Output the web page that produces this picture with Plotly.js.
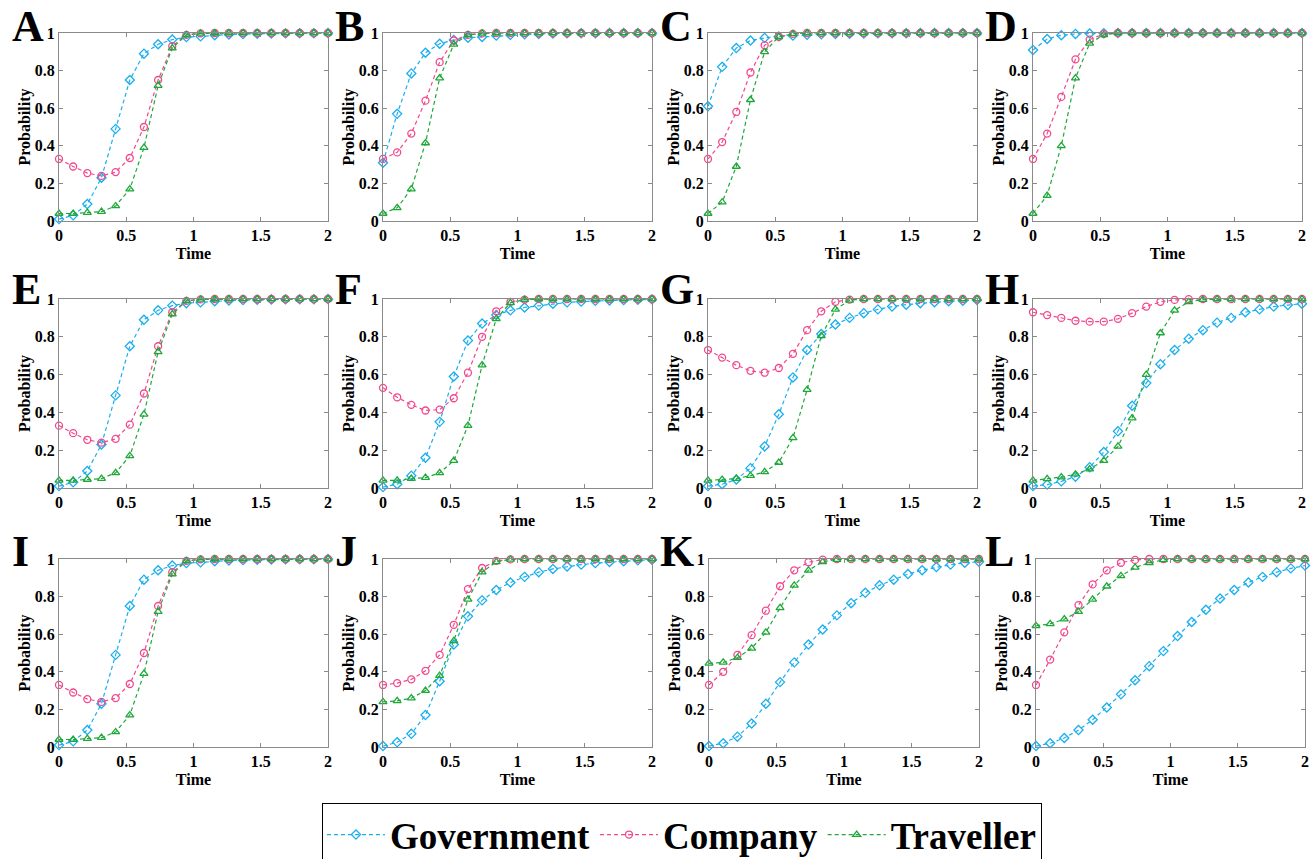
<!DOCTYPE html>
<html>
<head>
<meta charset="utf-8">
<script src="https://cdn.plot.ly/plotly-3.0.1.min.js"></script>
<style>html,body{margin:0;padding:0;background:#fff;}#chart{width:1314px;height:859px;}</style>
</head>
<body>
<div id="chart"></div>
<script>
// Time points (20 samples between 0 and 2)
const time = [0, 0.1053, 0.2105, 0.3158, 0.4211, 0.5263, 0.6316, 0.7368, 0.8421, 0.9474,
              1.0526, 1.1579, 1.2632, 1.3684, 1.4737, 1.5789, 1.6842, 1.7895, 1.8947, 2];

const seriesNames = ["Government", "Company", "Traveller"];
const panelLabels = ["A","B","C","D","E","F","G","H","I","J","K","L"];
const xTickVals = [0, 0.5, 1, 1.5, 2];
const xTickText = ["0", "0.5", "1", "1.5", "2"];
const yTickVals = [0, 0.2, 0.4, 0.6, 0.8, 1];
const yTickText = ["0", "0.2", "0.4", "0.6", "0.8", "1"];

// Panel A
const govA = [0.01,0.03,0.09,0.23,0.49,0.75,0.89,0.94,0.965,0.978,0.982,0.988,0.992,0.994,0.996,0.997,0.998,0.999,0.999,1];
const comA = [0.33,0.29,0.255,0.24,0.26,0.335,0.50,0.75,0.93,0.99,0.998,1,1,1,1,1,1,1,1,1];
const traA = [0.04,0.04,0.045,0.05,0.08,0.17,0.39,0.72,0.92,0.99,0.998,1,1,1,1,1,1,1,1,1];
// Panel B
const govB = [0.31,0.57,0.785,0.895,0.943,0.963,0.975,0.979,0.986,0.99,0.993,0.995,0.997,0.998,0.999,0.999,1,1,1,1];
const comB = [0.33,0.365,0.465,0.64,0.845,0.96,0.99,0.998,1,1,1,1,1,1,1,1,1,1,1,1];
const traB = [0.04,0.07,0.17,0.415,0.76,0.94,0.99,0.998,1,1,1,1,1,1,1,1,1,1,1,1];
// Panel C
const govC = [0.61,0.82,0.92,0.96,0.974,0.982,0.986,0.99,0.993,0.995,0.996,0.997,0.998,0.999,0.999,1,1,1,1,1];
const comC = [0.33,0.42,0.58,0.79,0.935,0.98,0.995,1,1,1,1,1,1,1,1,1,1,1,1,1];
const traC = [0.04,0.10,0.29,0.645,0.90,0.98,0.995,1,1,1,1,1,1,1,1,1,1,1,1,1];
// Panel D
const govD = [0.91,0.968,0.988,0.995,0.997,0.999,1,1,1,1,1,1,1,1,1,1,1,1,1,1];
const comD = [0.33,0.465,0.66,0.86,0.965,0.995,1,1,1,1,1,1,1,1,1,1,1,1,1,1];
const traD = [0.04,0.135,0.40,0.76,0.945,0.99,1,1,1,1,1,1,1,1,1,1,1,1,1,1];
// Panel E
const govE = [0.01,0.03,0.09,0.23,0.49,0.75,0.89,0.94,0.965,0.978,0.982,0.988,0.992,0.994,0.996,0.997,0.998,0.999,0.999,1];
const comE = [0.33,0.29,0.255,0.24,0.26,0.335,0.50,0.75,0.93,0.99,0.998,1,1,1,1,1,1,1,1,1];
const traE = [0.04,0.04,0.045,0.05,0.08,0.17,0.39,0.72,0.92,0.99,0.998,1,1,1,1,1,1,1,1,1];
// Panel F
const govF = [0.005,0.02,0.065,0.16,0.35,0.59,0.78,0.87,0.915,0.94,0.955,0.965,0.975,0.982,0.986,0.99,0.992,0.994,0.996,0.998];
const comF = [0.53,0.48,0.44,0.41,0.415,0.475,0.61,0.80,0.935,0.985,0.997,1,1,1,1,1,1,1,1,1];
const traF = [0.04,0.04,0.05,0.055,0.08,0.145,0.33,0.65,0.895,0.98,0.997,1,1,1,1,1,1,1,1,1];
// Panel G
const govG = [0.01,0.02,0.045,0.105,0.22,0.39,0.585,0.73,0.815,0.865,0.90,0.925,0.945,0.96,0.97,0.978,0.983,0.988,0.991,0.995];
const comG = [0.73,0.69,0.65,0.62,0.61,0.635,0.71,0.835,0.935,0.985,0.997,1,1,1,1,1,1,1,1,1];
const traG = [0.04,0.045,0.05,0.065,0.085,0.135,0.265,0.52,0.805,0.945,0.993,1,1,1,1,1,1,1,1,1];
// Panel H
const govH = [0.01,0.018,0.035,0.06,0.11,0.19,0.30,0.435,0.555,0.655,0.73,0.79,0.835,0.875,0.90,0.93,0.945,0.96,0.968,0.975];
const comH = [0.93,0.915,0.90,0.885,0.88,0.88,0.895,0.925,0.96,0.985,0.995,0.999,1,1,1,1,1,1,1,1];
const traH = [0.04,0.048,0.058,0.073,0.10,0.145,0.22,0.37,0.60,0.82,0.94,0.985,0.997,1,1,1,1,1,1,1];
// Panel I
const govI = [0.01,0.03,0.09,0.23,0.49,0.75,0.89,0.94,0.965,0.978,0.982,0.988,0.992,0.994,0.996,0.997,0.998,0.999,0.999,1];
const comI = [0.33,0.29,0.255,0.24,0.26,0.335,0.50,0.75,0.93,0.99,0.998,1,1,1,1,1,1,1,1,1];
const traI = [0.04,0.04,0.045,0.05,0.08,0.17,0.39,0.72,0.92,0.99,0.998,1,1,1,1,1,1,1,1,1];
// Panel J
const govJ = [0.005,0.025,0.07,0.17,0.35,0.545,0.695,0.78,0.835,0.875,0.905,0.93,0.947,0.96,0.97,0.978,0.984,0.988,0.993,0.996];
const comJ = [0.33,0.34,0.36,0.405,0.49,0.65,0.84,0.952,0.99,0.998,1,1,1,1,1,1,1,1,1,1];
const traJ = [0.24,0.245,0.26,0.30,0.38,0.565,0.785,0.93,0.985,0.998,1,1,1,1,1,1,1,1,1,1];
// Panel K
const govK = [0.005,0.02,0.055,0.125,0.23,0.345,0.45,0.545,0.625,0.70,0.765,0.82,0.86,0.89,0.92,0.94,0.957,0.97,0.98,0.985];
const comK = [0.33,0.40,0.49,0.595,0.725,0.855,0.94,0.983,0.997,1,1,1,1,1,1,1,1,1,1,1];
const traK = [0.445,0.45,0.475,0.525,0.61,0.74,0.86,0.94,0.985,0.997,1,1,1,1,1,1,1,1,1,1];
// Panel L
const govL = [0.005,0.02,0.048,0.09,0.145,0.21,0.28,0.355,0.43,0.51,0.59,0.665,0.73,0.79,0.835,0.875,0.905,0.93,0.95,0.965];
const comL = [0.33,0.465,0.61,0.755,0.865,0.94,0.98,0.995,1,1,1,1,1,1,1,1,1,1,1,1];
const traL = [0.645,0.655,0.68,0.72,0.785,0.855,0.91,0.955,0.98,0.995,1,1,1,1,1,1,1,1,1,1];

const panelData = [
  [govA, comA, traA], [govB, comB, traB], [govC, comC, traC], [govD, comD, traD],
  [govE, comE, traE], [govF, comF, traF], [govG, comG, traG], [govH, comH, traH],
  [govI, comI, traI], [govJ, comJ, traJ], [govK, comK, traK], [govL, comL, traL]
];

// Layout geometry (pixels)
const W = 1314, H = 859;
const panelBoxes = [
  [59,328,33,221],[383,652,33,221],[708,977,33,221],[1033,1302,33,221],
  [59,328,299,488],[383,652,299,488],[708,977,299,488],[1033,1302,299,488],
  [59,328,559,747],[383,652,559,747],[709,979,559,747],[1036,1305,559,747]
];
const letterPos = [
  [10,0],[333,0],[658,0],[983,0],
  [10,263],[333,263],[658,263],[983,263],
  [10,525],[333,525],[658,525],[983,525]
];

const colors = ["#1AAFEF", "#F2488E", "#1FA83A"];
const symbols = ["diamond-open", "circle-open", "triangle-up-open"];
const FONT = "Liberation Serif, Times New Roman, serif";

const traces = [];
const layout = {
  width: W, height: H,
  margin: {l:0, r:0, t:0, b:0, autoexpand: false},
  paper_bgcolor: "#fff", plot_bgcolor: "#fff",
  font: {family: FONT, size: 16, color: "#000", weight: "bold"},
  showlegend: true,
  legend: {
    orientation: "h", xref: "container", yref: "container",
    x: 0.519, xanchor: "center", y: 1 - 803/H, yanchor: "top",
    bordercolor: "#000", borderwidth: 1, bgcolor: "#fff",
    font: {family: FONT, size: 37, color: "#000", weight: "bold"},
    itemwidth: 58, tracegroupgap: 0
  },
  annotations: []
};

panelData.forEach((series, p) => {
  const idx = p === 0 ? "" : String(p + 1);
  const b = panelBoxes[p];
  series.forEach((vals, s) => {
    traces.push({
      x: time, y: vals,
      xaxis: "x" + idx, yaxis: "y" + idx,
      type: "scatter", mode: "lines+markers",
      name: seriesNames[s], legendgroup: seriesNames[s],
      showlegend: p === 0,
      cliponaxis: false,
      line: {color: colors[s], width: 1.2, dash: "4px,3px"},
      marker: {symbol: symbols[s], size: 7, color: colors[s], line: {width: 1.3, color: colors[s]}}
    });
  });
  const axCommon = {
    showline: true, linecolor: "#8a8a8a", linewidth: 1, mirror: "ticks",
    ticks: "inside", ticklen: 4, tickcolor: "#8a8a8a", tickwidth: 1,
    showgrid: false, zeroline: false, fixedrange: true, automargin: false,
    tickfont: {family: FONT, size: 16, color: "#000", weight: "bold"}
  };
  layout["xaxis" + idx] = Object.assign({}, axCommon, {
    domain: [b[0]/W, b[1]/W], range: [0, 2], anchor: "y" + idx,
    tickmode: "array", tickvals: xTickVals, ticktext: xTickText,
    title: {text: "Time", font: {family: FONT, size: 16, color: "#000", weight: "bold"}, standoff: 4}
  });
  layout["yaxis" + idx] = Object.assign({}, axCommon, {
    domain: [1 - b[3]/H, 1 - b[2]/H], range: [0, 1], anchor: "x" + idx,
    tickmode: "array", tickvals: yTickVals, ticktext: yTickText,
    title: {text: "Probability", font: {family: FONT, size: 16, color: "#000", weight: "bold"}, standoff: 0}
  });
  layout.annotations.push({
    text: panelLabels[p], xref: "paper", yref: "paper",
    x: letterPos[p][0]/W, y: 1 - letterPos[p][1]/H, xanchor: "left", yanchor: "top",
    showarrow: false, font: {family: FONT, size: 44, color: "#000", weight: "bold"}
  });
});

Plotly.newPlot("chart", traces, layout, {displayModeBar: false, staticPlot: true});
</script>
</body>
</html>
